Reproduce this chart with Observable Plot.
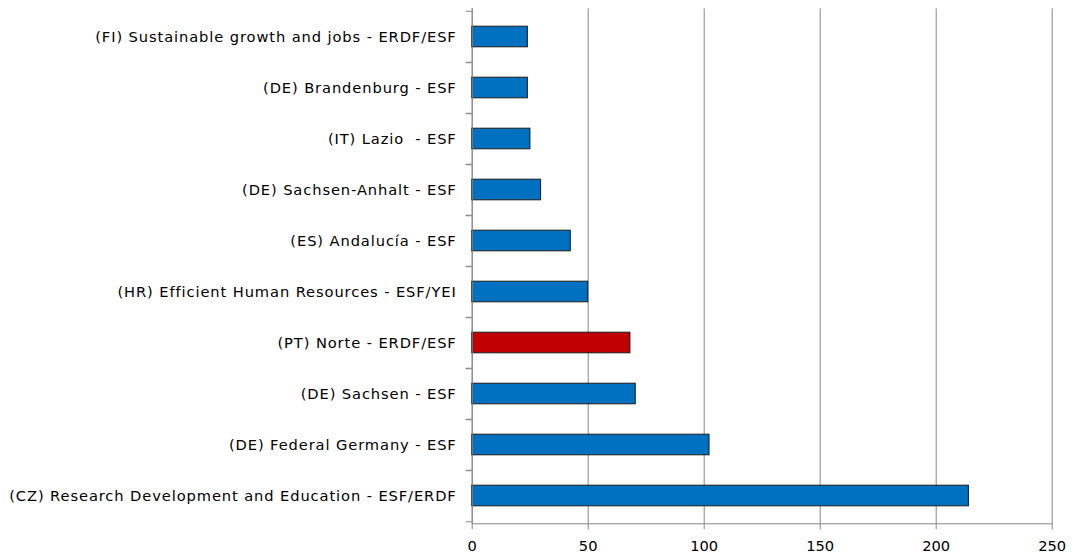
<!DOCTYPE html>
<html><head><meta charset="utf-8">
<script src="https://cdn.jsdelivr.net/npm/d3@7"></script>
<script src="https://cdn.jsdelivr.net/npm/@observablehq/plot@0.6"></script>
<style>
body{margin:0;background:#fff}
svg{display:block}
svg text{white-space:pre}
</style>
</head><body><div id="chart"></div>
<script>
const programmes = [
  "(FI) Sustainable growth and jobs - ERDF/ESF",
  "(DE) Brandenburg - ESF",
  "(IT) Lazio  - ESF",
  "(DE) Sachsen-Anhalt - ESF",
  "(ES) Andalucía - ESF",
  "(HR) Efficient Human Resources - ESF/YEI",
  "(PT) Norte - ERDF/ESF",
  "(DE) Sachsen - ESF",
  "(DE) Federal Germany - ESF",
  "(CZ) Research Development and Education - ESF/ERDF"
];
const values = [24.0, 24.0, 25.1, 29.7, 42.5, 50.0, 68.2, 70.5, 102.3, 214.1];
const highlighted = ["(PT) Norte - ERDF/ESF"];
const xTicks = [0, 50, 100, 150, 200, 250];

const data = programmes.map((p, i) => ({programme: p, value: values[i], hl: highlighted.includes(p)}));

const W = 1074, H = 557, mt = 8.3, mb = 33.7, ml = 471.7, mr = 22.3;
const step = (H - mt - mb) / programmes.length;
const gray = "#878787";
const fs = 14.67;

const chart = Plot.plot({
  width: W, height: H,
  marginTop: mt, marginBottom: mb, marginLeft: ml, marginRight: mr,
  style: {fontFamily: "'DejaVu Sans', Verdana, sans-serif", fontSize: fs + "px", color: "#000", background: "#fff"},
  x: {domain: [0, 250]},
  y: {domain: programmes, padding: 0},
  marks: [
    Plot.gridX(xTicks, {stroke: gray, strokeOpacity: 1}),
    Plot.barX(data, {
      x: "value", y: "programme",
      fill: d => d.hl ? "#C00000" : "#0070C0",
      stroke: "#1a1a1a", strokeWidth: 1,
      insetTop: 15.2, insetBottom: 15.2
    }),
    Plot.ruleX([0], {stroke: gray}),
    Plot.frame({anchor: "bottom", stroke: gray}),
    Plot.axisY({tickSize: 0, tickPadding: 15.5, label: null, fill: "#000", fontSize: fs}),
    Plot.axisY({tickSize: 6, tickFormat: () => "", label: null, stroke: gray, dy: -step / 2}),
    Plot.axisY({tickSize: 6, tickFormat: () => "", label: null, stroke: gray, dy: step / 2}),
    Plot.axisX(xTicks, {tickSize: 6, tickPadding: 11, label: null, stroke: gray, fill: "#000", fontSize: fs})
  ]
});
document.getElementById("chart").appendChild(chart);
d3.select(chart).selectAll("g[aria-label='y-axis tick label'] text").style("letter-spacing", "0.9px");
</script>
</body></html>
